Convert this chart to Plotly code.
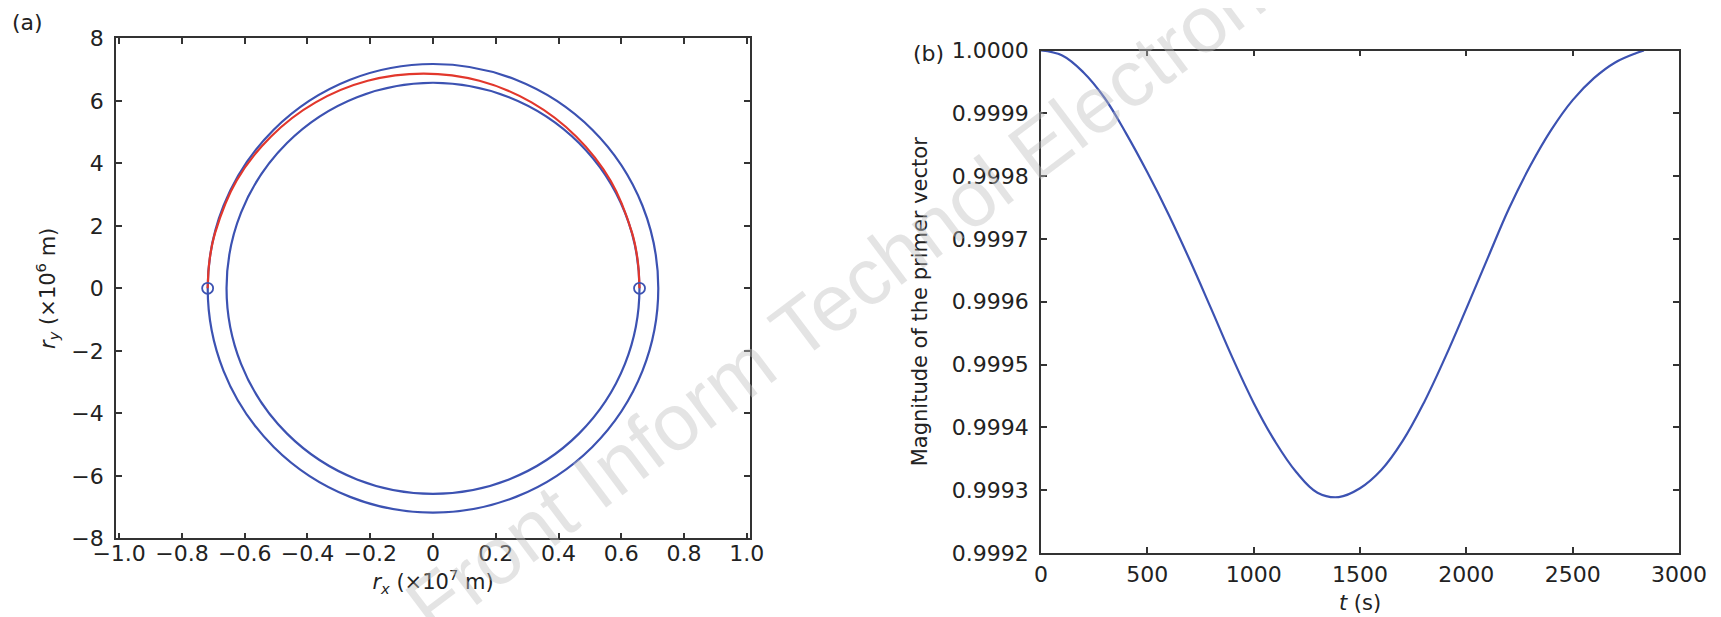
import plotly.graph_objects as go

# ---------------- data ----------------
# (a) orbit radii (m): inner (departure) and outer (arrival) circular orbits
orbit_radii_m = [6.578e6, 7.178e6]
# (a) transfer arc (red): rx in 1e7 m, ry in 1e6 m
transfer_rx = [0.658, 0.652, 0.634, 0.566, 0.456, 0.314, 0.148, -0.030,
               -0.208, -0.374, -0.516, -0.626, -0.694, -0.712, -0.718]
transfer_ry = [0.0, 0.90, 1.78, 3.44, 4.86, 5.95, 6.64, 6.87,
               6.64, 5.95, 4.86, 3.44, 1.78, 0.90, 0.0]
# (a) impulse points (open circles)
impulse_rx = [0.658, -0.718]
impulse_ry = [0.0, 0.0]

# (b) primer vector magnitude vs time
t_s = [0, 100, 200, 300, 400, 500, 600, 700, 800, 900, 1000, 1100, 1200,
       1300, 1400, 1500, 1600, 1700, 1800, 1900, 2000, 2100, 2200,
       2300, 2400, 2500, 2600, 2700, 2800, 2835]
primer_mag = [1.000000, 0.999992, 0.999965, 0.999924, 0.999868, 0.999806,
              0.999739, 0.999666, 0.999589, 0.999511, 0.999439, 0.999378,
              0.999329, 0.999296, 0.999289, 0.999303, 0.999332,
              0.999378, 0.999439, 0.999511, 0.999589, 0.999669, 0.999748,
              0.999816, 0.999874, 0.999921, 0.999956, 0.999981, 0.999996,
              1.000000]

x_ticks_a = [-1.0, -0.8, -0.6, -0.4, -0.2, 0, 0.2, 0.4, 0.6, 0.8, 1.0]
x_ticktext_a = ["\u22121.0", "\u22120.8", "\u22120.6", "\u22120.4", "\u22120.2", "0",
                "0.2", "0.4", "0.6", "0.8", "1.0"]
y_ticks_a = [-8, -6, -4, -2, 0, 2, 4, 6, 8]
x_ticks_b = [0, 500, 1000, 1500, 2000, 2500, 3000]
y_ticks_b = [0.9992, 0.9993, 0.9994, 0.9995, 0.9996, 0.9997, 0.9998, 0.9999, 1.0]

# ---------------- style ----------------
OFF = 8                      # page body margin of the html page
W, H = 1721 - OFF, 617 - OFF
BLUE = "#3c52b2"
RED = "#e2372c"
AX = "#333333"
FONT = "DejaVu Sans"
TICKF = dict(family=FONT, size=22, color="#222")
TITLEF = dict(family=FONT, size=21, color="#222")

def px_x(p):
    return (p - OFF) / W

def px_y(p):
    return (H - (p - OFF)) / H

fig = go.Figure()

# orbits as circles in data coordinates
for r in orbit_radii_m:
    fig.add_shape(type="circle", xref="x", yref="y",
                  x0=-r / 1e7, x1=r / 1e7, y0=-r / 1e6, y1=r / 1e6,
                  line=dict(color=BLUE, width=2.2), layer="below")

fig.add_trace(go.Scatter(x=transfer_rx, y=transfer_ry, mode="lines",
                         line=dict(color=RED, width=2.2, shape="spline", smoothing=1.0),
                         xaxis="x", yaxis="y", showlegend=False, hoverinfo="skip"))
fig.add_trace(go.Scatter(x=impulse_rx, y=impulse_ry, mode="markers",
                         marker=dict(symbol="circle-open", size=11, color=BLUE,
                                     line=dict(width=1.8, color=BLUE)),
                         xaxis="x", yaxis="y", showlegend=False, hoverinfo="skip"))
fig.add_trace(go.Scatter(x=t_s, y=primer_mag, mode="lines",
                         line=dict(color=BLUE, width=2.2, shape="spline", smoothing=1.1),
                         xaxis="x2", yaxis="y2", showlegend=False, hoverinfo="skip"))

common = dict(showline=True, linecolor=AX, linewidth=1.6, mirror="ticks",
              ticks="inside", ticklen=6, tickwidth=1.5, tickcolor=AX,
              showgrid=False, zeroline=False, tickfont=TICKF, automargin=False)

fig.update_layout(
    width=W, height=H,
    margin=dict(l=0, r=0, t=0, b=0),
    paper_bgcolor="white", plot_bgcolor="white",
    xaxis=dict(domain=[px_x(116), px_x(750)], range=[-1.01, 1.01],
               tickvals=x_ticks_a, ticktext=x_ticktext_a, anchor="y",
               ticklabelstandoff=-6,
               title=dict(text="<i>r</i><sub><i>x</i></sub> (\u00d710<sup>7</sup> m)",
                          font=TITLEF, standoff=10),
               **common),
    yaxis=dict(domain=[px_y(538.3), px_y(38.3)], range=[-8, 8],
               tickvals=y_ticks_a, anchor="x", ticklabelstandoff=6,
               title=dict(text="<i>r</i><sub><i>y</i></sub> (\u00d710<sup>6</sup> m)",
                          font=TITLEF, standoff=10),
               **common),
    xaxis2=dict(domain=[px_x(1041), px_x(1679)], range=[0, 3000],
                tickvals=x_ticks_b, anchor="y2", ticklabelstandoff=1,
                title=dict(text="<i>t</i> (s)", font=TITLEF, standoff=9),
                **common),
    yaxis2=dict(domain=[px_y(553), px_y(50.5)], range=[0.9992, 1.0],
                tickvals=y_ticks_b, tickformat=".4f", anchor="x2",
                ticklabelstandoff=6,
                title=dict(text="Magnitude of the primer vector", font=TITLEF,
                           standoff=18),
                **common),
)

fig.add_annotation(text="(a)", xref="paper", yref="paper", x=px_x(10), y=px_y(23),
                   xanchor="left", yanchor="middle", showarrow=False,
                   font=dict(family=FONT, size=22, color="#222"))
fig.add_annotation(text="(b)", xref="paper", yref="paper", x=px_x(946), y=px_y(53),
                   xanchor="right", yanchor="middle", showarrow=False,
                   font=dict(family=FONT, size=22, color="#222"))
# watermark
fig.add_annotation(text="Front Inform Technol Electron", xref="paper", yref="paper",
                   x=px_x(835), y=px_y(300), xanchor="center", yanchor="middle",
                   textangle=-37, showarrow=False,
                   font=dict(family="Liberation Sans", size=80, color="rgba(190,190,190,0.42)"))

fig.write_html("out.html")
